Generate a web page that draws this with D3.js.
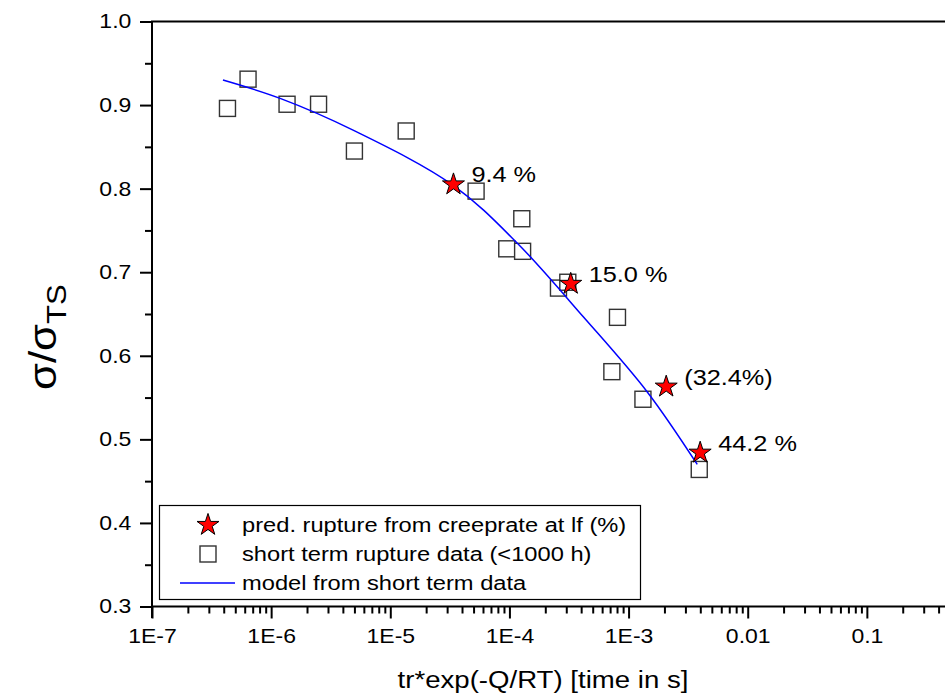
<!DOCTYPE html>
<html>
<head>
<meta charset="utf-8">
<script src="https://cdn.jsdelivr.net/npm/d3@7"></script>
<style>
  body { margin: 0; background: #fff; }
  text { font-family: Arial, "Liberation Sans", sans-serif; fill: #000; }
</style>
</head>
<body>
<div id="chart"></div>
<script>
// short term rupture data (<1000 h)
var shortX = [4.3e-7, 6.4e-7, 1.36e-6, 2.5e-6, 5.0e-6, 1.36e-5, 5.25e-5, 1.27e-4, 9.5e-5, 1.29e-4, 2.58e-4, 3.09e-4, 8.07e-4, 7.24e-4, 1.32e-3, 3.92e-3];
var shortY = [0.896, 0.931, 0.901, 0.901, 0.845, 0.869, 0.797, 0.764, 0.728, 0.725, 0.681, 0.688, 0.646, 0.581, 0.548, 0.464];

// pred. rupture from creeprate at lf
var predX = [3.39e-5, 3.27e-4, 2.07e-3, 3.99e-3];
var predY = [0.805, 0.686, 0.563, 0.484];
var predLabels = ["9.4 %", "15.0 %", "(32.4%)", "44.2 %"];

// model from short term data
var modelX = [3.94e-7, 1.19e-6, 4.87e-6, 3.37e-5, 1.16e-4, 4.15e-4, 1.43e-3, 3.77e-3];
var modelY = [0.930, 0.908, 0.870, 0.804, 0.735, 0.647, 0.557, 0.470];

var xTicks = [1e-7, 1e-6, 1e-5, 1e-4, 1e-3, 0.01, 0.1];
var xTickLabels = ["1E-7", "1E-6", "1E-5", "1E-4", "1E-3", "0.01", "0.1"];
var yTicks = [0.3, 0.4, 0.5, 0.6, 0.7, 0.8, 0.9, 1.0];
var yTickLabels = ["0.3", "0.4", "0.5", "0.6", "0.7", "0.8", "0.9", "1.0"];

var legendNames = ["pred. rupture from creeprate at lf (%)", "short term rupture data (<1000 h)", "model from short term data"];

var width = 945, height = 697;
var SX = 1.15; // fonts in the picture are drawn a bit wide

var svg = d3.select('#chart')
    .append('svg')
    .attr('width', width)
    .attr('height', height);

var x = d3.scaleLog().domain([1e-7, 1]).range([152, 986]);
var y = d3.scaleLinear().domain([0.3, 1.0]).range([606.5, 21.5]);

// minor ticks
var xMinor = [];
for (var e = -7; e < 0; e++) {
    for (var m = 2; m <= 9; m++) xMinor.push(m * Math.pow(10, e));
}
xMinor = xMinor.filter(function(d){ return x(d) < 945; });
var yMinor = [0.35, 0.45, 0.55, 0.65, 0.75, 0.85, 0.95];

svg.append('g')
    .attr('transform', 'translate(0,606.5)')
    .call(d3.axisBottom(x).tickValues(xMinor).tickSize(7).tickFormat(''))
    .call(function(g){ g.select('.domain').remove(); })
    .selectAll('line').attr('stroke-width', 2);

svg.append('g')
    .attr('transform', 'translate(152,0)')
    .call(d3.axisLeft(y).tickValues(yMinor).tickSize(7).tickFormat(''))
    .call(function(g){ g.select('.domain').remove(); })
    .selectAll('line').attr('stroke-width', 2);

var xAxis = svg.append('g')
    .attr('transform', 'translate(0,606.5)')
    .call(d3.axisBottom(x).tickValues(xTicks).tickSize(12).tickPadding(10)
        .tickFormat(function(d, i){ return xTickLabels[i]; }));
xAxis.select('.domain').attr('stroke-width', 2).attr('d', 'M152,0H945');
xAxis.selectAll('line').attr('stroke-width', 2);
xAxis.selectAll('text')
    .style('font-size', '20px')
    .attr('transform', 'scale(' + SX + ',1)');

var yAxis = svg.append('g')
    .attr('transform', 'translate(152,0)')
    .call(d3.axisLeft(y).tickValues(yTicks).tickSize(12).tickPadding(6)
        .tickFormat(function(d, i){ return yTickLabels[i]; }));
yAxis.select('.domain').attr('stroke-width', 2).attr('d', 'M0,21.5V618');
yAxis.selectAll('line').attr('stroke-width', 2);
yAxis.selectAll('text')
    .style('font-size', '20px')
    .attr('transform', 'scale(' + SX + ',1)');

// top frame line
svg.append('line')
    .attr('x1', 151).attr('x2', 945)
    .attr('y1', 21.5).attr('y2', 21.5)
    .attr('stroke', '#000').attr('stroke-width', 2);

// squares
svg.selectAll('rect.short')
    .data(shortX)
    .enter()
    .append('rect')
    .attr('class', 'short')
    .attr('x', function(d){ return x(d) - 8; })
    .attr('y', function(d, i){ return y(shortY[i]) - 8; })
    .attr('width', 16)
    .attr('height', 16)
    .attr('fill', '#fff')
    .attr('stroke', '#333')
    .attr('stroke-width', 1.4);

// model line
var line = d3.line()
    .x(function(d){ return x(d); })
    .y(function(d, i){ return y(modelY[i]); })
    .curve(d3.curveCatmullRom);

svg.append('path')
    .attr('d', line(modelX))
    .attr('fill', 'none')
    .attr('stroke', '#0000ff')
    .attr('stroke-width', 1.5);

// stars
var star = d3.symbol().type(d3.symbolStar).size(150);

svg.selectAll('path.pred')
    .data(predX)
    .enter()
    .append('path')
    .attr('class', 'pred')
    .attr('d', star)
    .attr('transform', function(d, i){ return 'translate(' + x(d) + ',' + y(predY[i]) + ')'; })
    .attr('fill', '#ff0000')
    .attr('stroke', '#000')
    .attr('stroke-width', 1);

svg.selectAll('text.plabel')
    .data(predLabels)
    .enter()
    .append('text')
    .attr('class', 'plabel')
    .attr('transform', function(d, i){
        return 'translate(' + (x(predX[i]) + 18) + ',' + (y(predY[i]) - 2) + ') scale(' + SX + ',1)';
    })
    .style('font-size', '22px')
    .text(function(d){ return d; });

// legend
var legend = svg.append('g');
legend.append('rect')
    .attr('x', 159.5).attr('y', 505.5)
    .attr('width', 481).attr('height', 94)
    .attr('fill', '#fff')
    .attr('stroke', '#000')
    .attr('stroke-width', 1.2);

var rowY = [525, 554, 583];
legend.append('path')
    .attr('d', star)
    .attr('transform', 'translate(208,' + rowY[0] + ')')
    .attr('fill', '#ff0000').attr('stroke', '#000').attr('stroke-width', 1);
legend.append('rect')
    .attr('x', 200).attr('y', rowY[1] - 8)
    .attr('width', 16).attr('height', 16)
    .attr('fill', '#fff').attr('stroke', '#333').attr('stroke-width', 1.4);
legend.append('line')
    .attr('x1', 180).attr('x2', 235)
    .attr('y1', rowY[2]).attr('y2', rowY[2])
    .attr('stroke', '#0000ff').attr('stroke-width', 1.5);

legend.selectAll('text')
    .data(legendNames)
    .enter()
    .append('text')
    .attr('transform', function(d, i){ return 'translate(242,' + (rowY[i] + 7) + ') scale(' + SX + ',1)'; })
    .style('font-size', '20.6px')
    .text(function(d){ return d; });

// axis titles
svg.append('text')
    .attr('transform', 'translate(543,688) scale(' + SX + ',1)')
    .attr('text-anchor', 'middle')
    .style('font-size', '24px')
    .text('tr*exp(-Q/RT) [time in s]');

var yt = svg.append('text')
    .attr('transform', 'translate(56,390) rotate(-90) scale(' + SX + ',1)')
    .style('font-size', '38px');
yt.append('tspan').text('σ/σ');
yt.append('tspan').attr('dy', 10).style('font-size', '27px').text('TS');
</script>
</body>
</html>
